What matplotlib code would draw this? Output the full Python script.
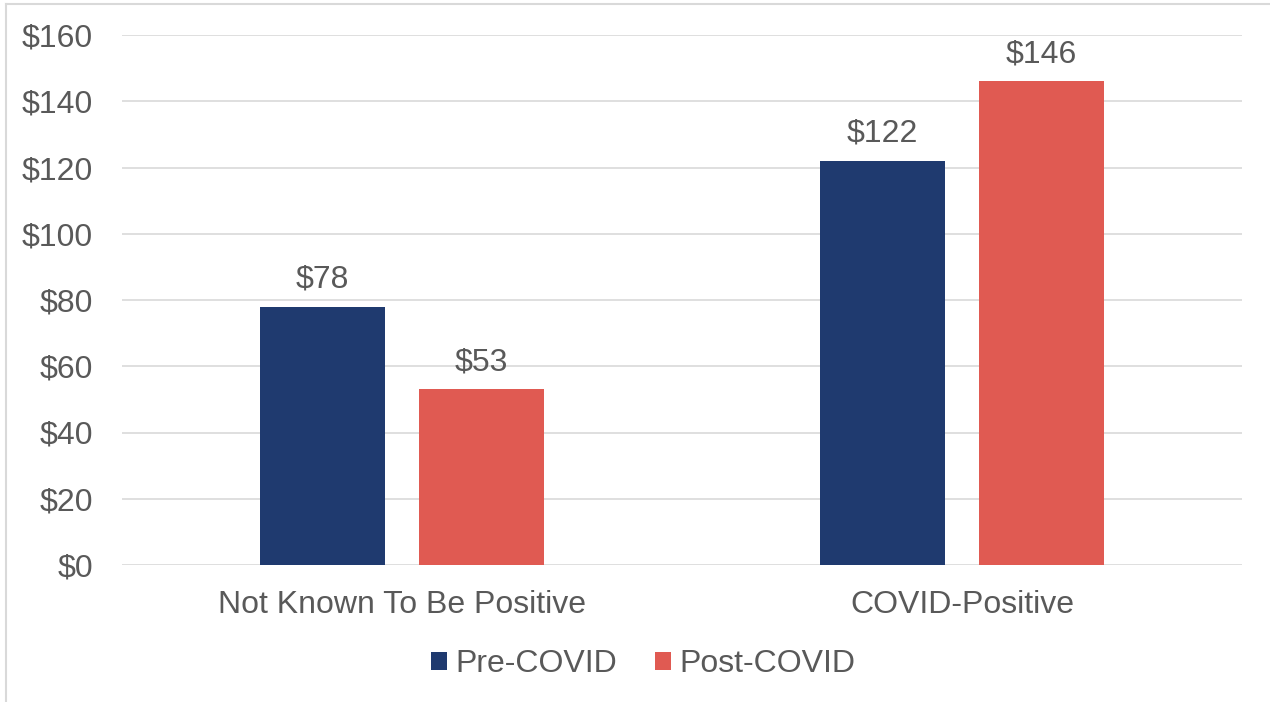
import matplotlib.pyplot as plt
import numpy as np
from matplotlib.lines import Line2D

plt.rcParams['font.family'] = ['Liberation Sans', 'DejaVu Sans']

categories = ['Not Known To Be Positive', 'COVID-Positive']
pre_covid = [78, 122]
post_covid = [53, 146]
y_ticks = [0, 20, 40, 60, 80, 100, 120, 140, 160]

navy = '#1F3A6F'
red = '#E05A52'
txt = '#595959'
fs = 23

fig = plt.figure(figsize=(12.7, 7.02), dpi=100)
ax = fig.add_axes([122 / 1270, 1 - 565 / 702, 1120 / 1270, 530 / 702])

x = np.arange(len(categories))
w = 0.223
off = 0.142
b1 = ax.bar(x - off, pre_covid, w, color=navy, label='Pre-COVID', zorder=3)
b2 = ax.bar(x + off, post_covid, w, color=red, label='Post-COVID', zorder=3)

for bars, vals in [(b1, pre_covid), (b2, post_covid)]:
    for b, v in zip(bars, vals):
        ax.text(b.get_x() + b.get_width() / 2, v + 3.6, '$' + str(v),
                ha='center', va='bottom', fontsize=fs, color=txt)

ax.set_xlim(-0.5, 1.5)
ax.set_ylim(0, 160)
ax.set_yticks(y_ticks)
ax.set_yticklabels(['$' + str(t) for t in y_ticks])
ax.set_xticks(x)
ax.set_xticklabels(categories)
ax.tick_params(axis='both', length=0, labelsize=fs, labelcolor=txt)
ax.tick_params(axis='y', pad=21)
ax.tick_params(axis='x', pad=18)
ax.grid(axis='y', color='#D9D9D9', linewidth=1.2, zorder=0)
for s in ax.spines.values():
    s.set_visible(False)

ax.legend(loc='center', bbox_to_anchor=((643 - 122) / 1120, (1 - 664 / 702 - (1 - 565 / 702)) / (530 / 702)),
          ncol=2, frameon=False, fontsize=fs, labelcolor=txt,
          handlelength=0.5, handleheight=0.5, handletextpad=0.25, columnspacing=1.2)

# chart frame (left and top edges visible)
fig.add_artist(Line2D([5.5 / 1270, 5.5 / 1270], [0, 1 - 3.5 / 702], color='#D9D9D9', linewidth=1.5))
fig.add_artist(Line2D([5.5 / 1270, 1], [1 - 3.5 / 702, 1 - 3.5 / 702], color='#D9D9D9', linewidth=1.5))

fig.savefig('out.png', dpi=100)
